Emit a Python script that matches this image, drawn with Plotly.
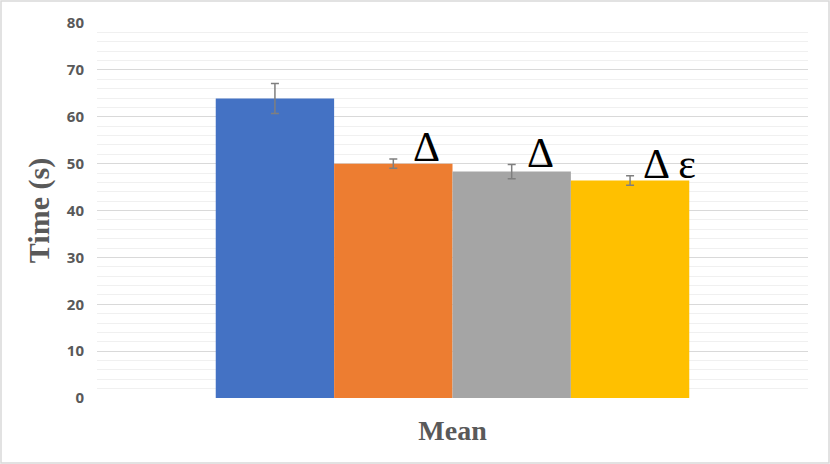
import plotly.graph_objects as go

# data
categories = ["Mean"]
series_names = ["Group 1", "Group 2", "Group 3", "Group 4"]
means = [63.9, 50.0, 48.3, 46.4]
errors = [3.2, 1.0, 1.5, 1.0]
marks = ["", "Δ", "Δ", "Δ ε"]
colors = ["#4472C4", "#ED7D31", "#A5A5A5", "#FFC000"]

fig = go.Figure()
for name, m, e, c in zip(series_names, means, errors, colors):
    fig.add_trace(go.Bar(
        x=categories, y=[m], name=name,
        marker=dict(color=c, line=dict(width=0)),
        error_y=dict(type="data", array=[e], color="#7F7F7F", thickness=1.5, width=4),
    ))

# significance marks, placed just right of each bar top
n = len(means)
bar_w = (1 - 0.334) / n
shifts = [(0, 0), (18, 12), (13, 12), (11, 12)]
for i, (m, e, t) in enumerate(zip(means, errors, marks)):
    if not t:
        continue
    center = -0.5 + 0.167 + bar_w * (i + 0.5)
    fig.add_annotation(
        x=center, y=m + e, xref="x", yref="y",
        text=t, showarrow=False, xanchor="left", yanchor="middle",
        xshift=shifts[i][0], yshift=shifts[i][1],
        font=dict(family="Liberation Serif", size=42, color="#000000"),
    )

fig.update_layout(
    width=830, height=464,
    margin=dict(l=97, r=22, t=23, b=66),
    paper_bgcolor="white", plot_bgcolor="white",
    barmode="group", bargap=0.334, bargroupgap=0,
    showlegend=False,
    xaxis=dict(
        showticklabels=False, showgrid=False, zeroline=False, showline=False,
        title=dict(text="Mean", standoff=22,
                   font=dict(family="Liberation Serif", size=28, color="#595959", weight="bold")),
    ),
    yaxis=dict(
        range=[0, 80], dtick=10, showline=False, zeroline=False,
        gridcolor="#D9D9D9", gridwidth=1,
        minor=dict(dtick=2, showgrid=True, gridcolor="#F0F0F0", gridwidth=1),
        tickfont=dict(family="Open Sans", size=15, color="#595959", weight="bold"),
        ticks="", ticklabelstandoff=12,
        title=dict(text="Time (s)", standoff=8,
                   font=dict(family="Liberation Serif", size=30, color="#595959", weight="bold")),
    ),
)

# light chart border
fig.add_shape(type="rect", xref="paper", yref="paper",
              x0=-96 / 711, x1=1 + 21 / 711, y0=-65 / 375, y1=1 + 22 / 375,
              line=dict(color="#D9D9D9", width=1.5))

# drop the page's default body margin so the figure sits at the window corner
fig.write_html("out.html", config={"displayModeBar": False},
               post_script="document.body.style.margin='0';")
